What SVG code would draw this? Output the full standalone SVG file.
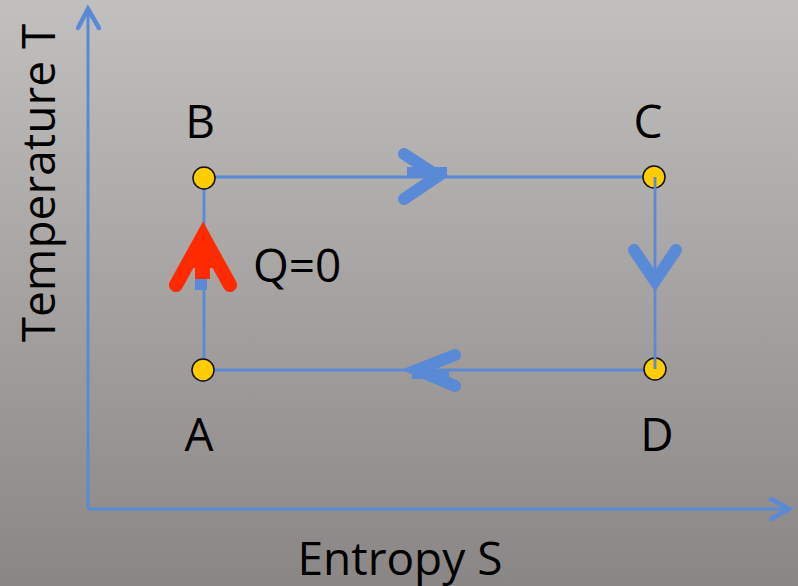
<svg xmlns="http://www.w3.org/2000/svg" width="798" height="586" viewBox="0 0 798 586">
  <defs>
    <linearGradient id="bg" x1="0" y1="0" x2="0" y2="1">
      <stop offset="0" stop-color="#c2c0bf"/>
      <stop offset="1" stop-color="#898685"/>
    </linearGradient>
  </defs>
  <style>
    .lbl { font-family: "Open Sans", "Noto Sans", "Liberation Sans", sans-serif; font-size: 46px; fill: #000; }
    .axis { stroke: #5a8ad6; stroke-width: 3; fill: none; }
    .axhead { stroke: #5a8ad6; stroke-width: 4.5; fill: none; stroke-linecap: round; stroke-linejoin: miter; }
    .edge { stroke: #5a8ad6; stroke-width: 2.8; fill: none; }
    .chev { stroke: #5a8ad6; stroke-width: 12; fill: none; stroke-linecap: round; stroke-linejoin: miter; stroke-miterlimit: 10; }
    .chevred { stroke: #ff2a00; stroke-width: 14; fill: none; stroke-linecap: round; stroke-linejoin: miter; stroke-miterlimit: 10; }
    .pt { fill: #ffcc00; stroke: #111; stroke-width: 1.5; }
  </style>
  <rect x="0" y="0" width="798" height="586" fill="url(#bg)"/>

  <g id="axes">
    <line class="axis" x1="88" y1="509" x2="88" y2="9"/>
    <polyline class="axhead" points="78,28 88,9 99,28"/>
    <line class="axis" x1="88" y1="509" x2="789" y2="509"/>
    <polyline class="axhead" points="771,499 789,509 771,519"/>
    <text class="lbl" x="400" y="575" text-anchor="middle">Entropy S</text>
    <text class="lbl" x="55" y="183" text-anchor="middle" transform="rotate(-90 55 183)">Temperature T</text>
  </g>

  <g id="connectors">
    <line class="edge" x1="204" y1="177" x2="654" y2="177"/>
    <line class="edge" x1="203" y1="370" x2="655" y2="370"/>
    <line class="edge" x1="204" y1="178" x2="204" y2="370"/>
    <!-- B to C arrow -->
    <rect x="407" y="167" width="40" height="10" fill="#5a8ad6"/>
    <polyline class="chev" points="404,154 438,176 404,199"/>
    <!-- D to A arrow -->
    <rect x="412" y="370" width="37" height="9" fill="#5a8ad6"/>
    <polyline class="chev" points="455,355 417,370 455,386"/>
    <!-- A to B arrow (Q=0) -->
    <rect x="195" y="276" width="12" height="14" fill="#5a8ad6"/>
    <polygon points="203,228 186,268 221,268" fill="#ff2a00"/>
    <rect x="195" y="262" width="15" height="17" fill="#ff2a00"/>
    <polyline class="chevred" points="176,285 203,236 230,285"/>
    <text class="lbl" x="253" y="282">Q=0</text>
  </g>

  <g id="node-B">
    <circle class="pt" cx="204" cy="178" r="11"/>
    <text class="lbl" x="200" y="138" text-anchor="middle">B</text>
  </g>
  <g id="node-A">
    <circle class="pt" cx="203" cy="370" r="11"/>
    <text class="lbl" x="199" y="451" text-anchor="middle">A</text>
  </g>
  <g id="node-C">
    <circle class="pt" cx="654" cy="177" r="11"/>
    <text class="lbl" x="648" y="138" text-anchor="middle">C</text>
  </g>
  <g id="node-D">
    <circle class="pt" cx="655" cy="369" r="11"/>
    <text class="lbl" x="657" y="451" text-anchor="middle">D</text>
  </g>

  <g id="connector-CD">
    <line class="edge" x1="655" y1="177" x2="655" y2="369"/>
    <polyline class="chev" points="634,250 655,281 676,250"/>
  </g>
</svg>
